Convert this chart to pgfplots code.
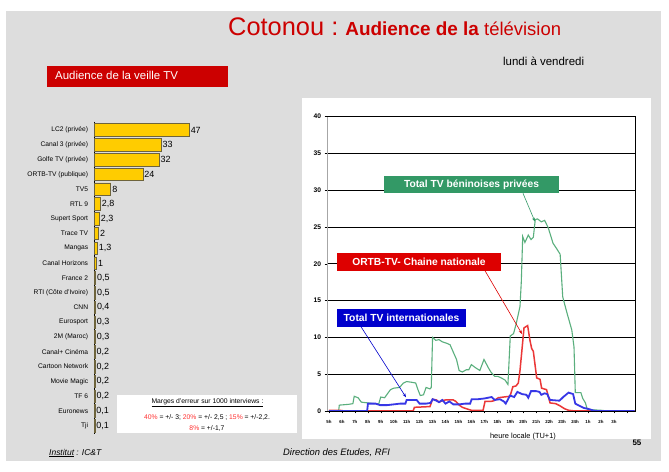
\documentclass[border=0pt]{standalone}
\usepackage{fontspec}
\setmainfont{Liberation Sans}
\usepackage{pgfplots}
\pgfplotsset{compat=1.18}
\usetikzlibrary{arrows.meta}
\definecolor{bg}{RGB}{221,221,221}
\definecolor{hdred}{RGB}{204,0,0}
\definecolor{gold}{RGB}{255,204,0}
\definecolor{bardraw}{RGB}{110,100,60}
\definecolor{gbox}{RGB}{51,153,102}
\definecolor{rbox}{RGB}{221,0,0}
\definecolor{bbox}{RGB}{0,0,204}
\definecolor{gline}{RGB}{90,175,125}
\definecolor{rline}{RGB}{235,55,55}
\definecolor{bline}{RGB}{55,55,230}
\definecolor{pctred}{RGB}{255,50,50}
\newcommand{\fs}[1]{\fontsize{#1}{#1}\selectfont}
\begin{document}
\begin{tikzpicture}
\useasboundingbox (0bp,0bp) rectangle (669bp,472bp);
\begin{scope}[x=1bp,y=1bp]
\fill[white] (0,0) rectangle (669,472);
\fill[bg] (6,11) rectangle (661,461);
\fill[white] (302,33) rectangle (650.5,373.7);
\fill[white] (116.7,39.3) rectangle (296.7,77);
\fill[hdred] (47.3,385.3) rectangle (228,406);
% header texts
\node[anchor=base west, inner sep=0pt, text=hdred] at (228,436)
  {\fs{25.5}Cotonou :\fs{19}\bfseries{} Audience de la \mdseries\fs{18.5}télévision};
\node[anchor=base west, inner sep=0pt] at (503,406.3) {\fs{11.5}lundi à vendredi};
\node[anchor=base west, inner sep=0pt, text=white] at (55,392) {\fs{11.5}Audience de la veille TV};
% error margins box
\node[inner sep=0pt] at (207.5,69) {\fs{6.8}\underline{Marges d'erreur sur 1000 interviews :}};
\node[inner sep=0pt] at (207,55) {\fs{6.8}\textcolor{pctred}{40\%} = +/- 3; \textcolor{pctred}{20\%} = +/- 2,5 ; \textcolor{pctred}{15\%} = +/-2,2.};
\node[inner sep=0pt] at (207,44) {\fs{6.8}\textcolor{pctred}{8\%} = +/-1,7};
% footer
\node[anchor=base west, inner sep=0pt] at (49,17) {\fs{8.5}\itshape\underline{Institut} : IC\&T};
\node[anchor=base west, inner sep=0pt] at (283,17) {\fs{9.4}\itshape Direction des Etudes, RFI};
\node[inner sep=0pt] at (637,29.3) {\fs{8}\bfseries 55};
\node[inner sep=0pt] at (523,35.5) {\fs{7.45}heure locale (TU+1)};
\end{scope}

% bar chart
\begin{axis}[at={(94.7bp,38bp)}, anchor=south west, scale only axis,
  width=100.6bp, height=312.3bp,
  xbar, bar width=12.5bp,
  xmin=0, xmax=50, ymin=-0.56, ymax=20.56, y dir=reverse,
  axis x line=none, axis y line*=left,
  y axis line style={-, black, line width=0.8bp},
  ytick={0,...,20},
  yticklabels={LC2 (privée), Canal 3 (privée), Golfe TV (privée), ORTB-TV (publique), TV5, RTL 9, Supert Sport, Trace TV, Mangas, Canal Horizons, France 2, RTI (Côte d'Ivoire), CNN, Eurosport, 2M (Maroc), Canal+ Cinéma, Cartoon Network, Movie Magic, TF 6, Euronews, Tji},
  major tick length=0,
  yticklabel style={font=\fs{6.7}, inner sep=0pt, xshift=-6.4bp},
  nodes near coords,
  every node near coord/.append style={font=\fs{9}, inner sep=1.2bp, text=black},
  clip=false,
  /pgf/number format/use comma,
  /pgf/number format/assume math mode=true]
\addplot[fill=gold, draw=bardraw, line width=0.6bp] coordinates {
(47,0) (33,1) (32,2) (24,3) (8,4) (2.8,5) (2.3,6) (2,7) (1.3,8) (1,9) (0.5,10)
(0.5,11) (0.4,12) (0.3,13) (0.3,14) (0.2,15) (0.2,16) (0.2,17) (0.2,18) (0.1,19) (0.1,20)};
\end{axis}

% line chart
\begin{axis}[at={(327bp,61bp)}, anchor=south west, scale only axis,
  width=308bp, height=294.4bp,
  xmin=4.85, xmax=28.63, ymin=0, ymax=40,
  ytick={0,5,...,40},
  xtick={5,...,28},
  xticklabels={5h,6h,7h,8h,9h,10h,11h,12h,13h,14h,15h,16h,17h,18h,19h,20h,21h,22h,23h,24h,1h,2h,3h,{}},
  ymajorgrids, grid style={black, line width=0.6bp},
  axis line style={black, line width=0.6bp},
  tick align=outside, xtick pos=bottom, ytick pos=left,
  major tick length=2.5bp, tick style={black, line width=0.5bp},
  xticklabel style={font=\fs{4.4}\bfseries, yshift=-3bp},
  yticklabel style={font=\fs{6.7}\bfseries},
  /pgf/number format/assume math mode=true]
\addplot[gline, line width=1.1bp] coordinates {
(5,0) (5.75,0) (5.8,0.8) (6.5,0.9) (6.85,1.0) (6.95,2.0) (7.25,1.8) (7.5,1.2) (8,1.1) (8.5,1.0)
(8.85,1.0) (9.0,1.9) (9.3,1.8) (9.5,2.3) (9.75,2.9) (10.0,3.1) (10.45,3.2) (10.75,3.8) (11.0,4.0)
(11.4,3.9) (11.7,3.8) (11.85,3.0) (12.05,2.1) (12.3,2.2) (12.5,3.2) (12.8,3.0) (12.9,3.2) (13.0,10.0)
(13.25,9.6) (13.5,9.7) (13.75,9.4) (14.1,9.2) (14.35,9.0) (14.6,8.0) (14.85,7.0) (15.05,5.5)
(15.3,5.3) (15.6,5.6) (15.8,5.6) (16.0,6.3) (16.3,5.9) (16.65,5.5) (16.97,7.0) (17.3,5.9) (17.5,5.3)
(17.8,4.7) (18.05,4.7) (18.3,4.5) (18.6,4.2) (18.82,3.6) (19.0,10.2) (19.25,10.5) (19.45,11.8)
(19.75,14.2) (19.85,17.5) (19.96,23.7) (20.13,22.9) (20.39,23.9) (20.6,23.3) (20.78,23.6)
(20.93,26.0) (21.1,26.1) (21.4,25.7) (21.65,25.9) (21.93,24.9) (22.3,22.8) (22.6,22.0) (22.85,21.3)
(23.05,15.5) (23.35,13.5) (23.75,11.0) (23.92,8.7) (24.02,2.5) (24.45,2.5) (24.6,1.7) (24.8,1.1)
(24.95,0.2) (26,0.1) (26.5,0) (28.6,0)};
\addplot[rline, line width=1.5bp] coordinates {
(5,0.1) (5.8,0.1) (6.2,0) (11.5,0) (11.6,0.5) (12.8,0.6) (13.0,1.6) (13.3,1.5) (13.5,1.2)
(13.75,1.4) (14.0,1.5) (14.6,1.5) (14.8,1.3) (15.06,0.8) (15.3,0.5) (15.63,0.3) (15.8,0.2)
(16.0,0.1) (16.9,0.1) (17.05,1.3) (17.5,1.3) (17.75,1.4) (18.07,1.8) (18.5,1.9) (18.98,2.0)
(19.2,3.3) (19.44,3.4) (19.62,3.8) (19.75,5.5) (19.88,7.9) (20.06,11.3) (20.34,11.6) (20.52,9.6)
(20.65,8.5) (20.78,8.1) (21.04,4.5) (21.3,4.3) (21.42,3.1) (21.8,2.9) (22.07,1.1) (22.5,1.0)
(22.84,0.7) (23.2,0.3) (23.5,0.1) (24,0) (28.6,0)};
\addplot[bline, line width=1.8bp] coordinates {
(5,0) (7.95,0) (8.01,1.0) (8.6,1.0) (8.94,0.8) (9.5,0.8) (10.0,0.9) (10.48,1.0) (10.9,1.0)
(11.0,1.5) (11.77,1.5) (12.0,1.0) (12.5,1.0) (12.85,1.1) (13.0,1.6) (13.3,1.4) (13.5,1.2)
(13.75,1.5) (14.0,1.0) (14.3,1.3) (14.6,0.9) (15.06,0.9) (15.5,1.0) (15.9,1.0) (16.02,1.6)
(16.5,1.6) (17.0,1.7) (17.56,1.9) (17.8,1.5) (18.2,1.6) (18.5,1.3) (18.65,1.0) (18.98,2.1)
(19.3,1.9) (19.55,2.6) (19.9,2.3) (20.25,2.2) (20.39,1.8) (20.6,2.7) (21.0,2.7) (21.25,2.6)
(21.4,2.2) (21.65,2.4) (21.85,2.3) (22.07,1.5) (22.8,1.4) (23.09,1.9) (23.5,2.5) (23.85,2.3)
(24.02,1.0) (24.35,0.7) (24.7,0.4) (25.0,0.3) (25.35,0.1) (25.6,0) (28.6,0)};
\draw[black!35, line width=1.8bp] (rel axis cs:0,0) -- (rel axis cs:0,1);
\end{axis}

% callouts
\begin{scope}[x=1bp,y=1bp]
\fill[gbox] (384,278.7) rectangle (559,296);
\node[text=white, inner sep=0pt] at (471.5,287.3) {\fs{10.3}\bfseries Total TV béninoises privées};
\draw[gbox, line width=0.6bp, -{Stealth[length=4bp,width=3bp]}] (523,278.7) -- (535,250.3);
\fill[rbox] (337.3,201.3) rectangle (501,219.3);
\node[text=white, inner sep=0pt] at (419,210.3) {\fs{10.3}\bfseries ORTB-TV- Chaine nationale};
\draw[rbox, line width=0.6bp, -{Stealth[length=4bp,width=3bp]}] (485,201.3) -- (522,138);
\fill[bbox] (337.3,145.3) rectangle (465.7,162.7);
\node[text=white, inner sep=0pt] at (401.5,154) {\fs{10.3}\bfseries Total TV internationales};
\draw[bbox, line width=0.6bp, -{Stealth[length=4bp,width=3bp]}] (361,145.3) -- (406,74.7);
\end{scope}
\end{tikzpicture}
\end{document}
